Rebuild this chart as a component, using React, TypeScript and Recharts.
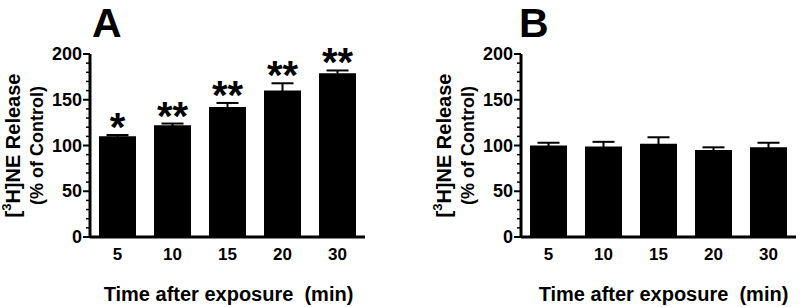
import { BarChart, Bar, XAxis, YAxis, ErrorBar, LabelList } from 'recharts';

// time after exposure (min)
const timePoints = ['5', '10', '15', '20', '30'];

// panel A
const releaseA = [110, 122, 142, 160, 179];
const semA = [1.5, 2, 4.5, 8, 3];
const starsA = ['*', '**', '**', '**', '**'];

// panel B
const releaseB = [100, 99, 102, 95, 98];
const semB = [3, 5, 7, 3, 5];

const yTicks = [0, 10, 20, 30, 40, 50, 60, 70, 80, 90, 100, 110, 120, 130, 140, 150, 160, 170, 180, 190, 200];
const yLabelled = [0, 50, 100, 150, 200];

const FONT = 'Arial, "Liberation Sans", Helvetica, sans-serif';

const rowsA = timePoints.map((t, i) => ({ time: t, release: releaseA[i], sem: semA[i], stars: starsA[i] }));
const rowsB = timePoints.map((t, i) => ({ time: t, release: releaseB[i], sem: semB[i], stars: '' }));

function YTick(props: any) {
    const { x, y, payload } = props;
    const major = yLabelled.includes(payload.value);
    return (
        <g>
            <line x1={x - (major ? 7 : 4)} x2={x} y1={y} y2={y} stroke="#000" strokeWidth={major ? 2 : 1.5} />
            {major && (
                <text x={x - 8} y={y} textAnchor="end" dominantBaseline="central"
                    fontFamily={FONT} fontWeight="bold" fontSize={18} fill="#000">
                    {payload.value}
                </text>
            )}
        </g>
    );
}

function Panel({ rows, letter, yWidth, right, letterDx, titleDx, showStars }: any) {
    const yTitle = (p: any) => {
        const vb = p.viewBox;
        const ax = vb.x + vb.width;
        const cy = vb.y + vb.height / 2;
        return (
            <g fontFamily={FONT} fontWeight="bold" fill="#000">
                <text x={ax + letterDx} y={37} fontSize={41}>{letter}</text>
                <text transform={`translate(${ax - 77},${cy}) rotate(-90)`} textAnchor="middle"
                    dominantBaseline="central" fontSize={20}>
                    [<tspan dy={-7} fontSize={13}>3</tspan><tspan dy={7}>H]NE Release</tspan>
                </text>
                <text transform={`translate(${ax - 53},${cy}) rotate(-90)`} textAnchor="middle"
                    dominantBaseline="central" fontSize={18}>
                    (% of Control)
                </text>
            </g>
        );
    };

    const xTitle = (p: any) => {
        const vb = p.viewBox;
        return (
            <text x={vb.x + vb.width / 2 + titleDx} y={vb.y + 64} textAnchor="middle"
                fontFamily={FONT} fontWeight="bold" fontSize={20} fill="#000" style={{ whiteSpace: 'pre' }}>
                {'Time after exposure  (min)'}
            </text>
        );
    };

    const stars = (p: any) => {
        const { x, y, width, height, index, value } = p;
        if (!value) return null;
        const row = rows[index];
        const perUnit = height / row.release;
        const errTop = y - row.sem * perUnit;
        return (
            <text x={x + width / 2} y={errTop + 6} textAnchor="middle"
                fontFamily={FONT} fontWeight="bold" fontSize={40} fill="#000">
                {value}
            </text>
        );
    };

    return (
        <BarChart width={400} height={307} data={rows}
            margin={{ top: 54, right, bottom: 0, left: 0 }} barSize={37}>
            <XAxis dataKey="time" height={70} axisLine={{ stroke: '#000', strokeWidth: 3 }}
                tickLine={false} tickSize={0} tickMargin={11}
                tick={{ fill: '#000', fontSize: 17, fontWeight: 'bold', fontFamily: FONT }}
                label={{ content: xTitle }} />
            <YAxis width={yWidth} domain={[0, 200]} ticks={yTicks} interval={0}
                axisLine={{ stroke: '#000', strokeWidth: 3 }} tickLine={false} tickSize={0} tickMargin={0}
                tick={<YTick />} label={{ content: yTitle }} />
            <Bar dataKey="release" fill="#000" isAnimationActive={false}>
                <ErrorBar dataKey="sem" width={11} strokeWidth={2} stroke="#000" direction="y" isAnimationActive={false} />
                {showStars && <LabelList dataKey="stars" content={stars} />}
            </Bar>
        </BarChart>
    );
}

export default function App() {
    return (
        <div style={{ position: 'absolute', left: 0, top: 0, width: 800, height: 307, background: '#fff', display: 'flex' }}>
            <Panel rows={rowsA} letter="A" yWidth={90} right={35} letterDx={2} titleDx={1} showStars />
            <Panel rows={rowsB} letter="B" yWidth={121} right={4} letterDx={-2} titleDx={5} showStars={false} />
        </div>
    );
}
